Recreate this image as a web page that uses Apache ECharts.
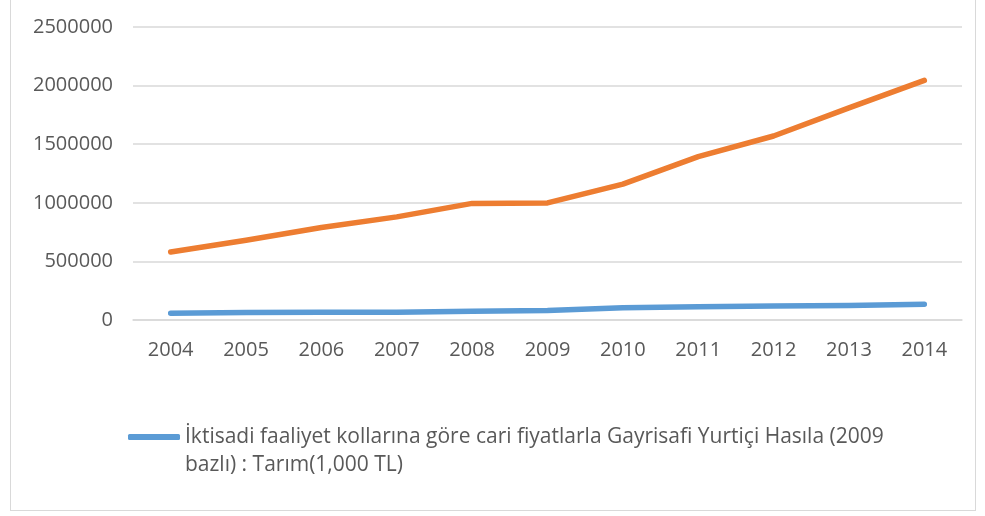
<!DOCTYPE html>
<html>
<head>
<meta charset="utf-8">
<script src="https://cdn.jsdelivr.net/npm/echarts@6/dist/echarts.min.js"></script>
<style>
  html, body { margin: 0; padding: 0; background: #fff; }
  #frame { position: absolute; left: 10px; top: -2px; width: 964px; height: 511px; border: 1px solid #d9d9d9; }
  #chart { position: absolute; left: 0; top: 0; width: 985px; height: 516px; }
</style>
</head>
<body>
<div id="frame"></div>
<div id="chart"></div>
<script>
var years = ['2004', '2005', '2006', '2007', '2008', '2009', '2010', '2011', '2012', '2013', '2014'];
var tarim = [57000, 64000, 66000, 66000, 75000, 81000, 104000, 114000, 120000, 123000, 134000];
var gsyh = [580000, 680000, 789000, 880000, 995000, 999000, 1160000, 1394000, 1570000, 1810000, 2044000];

var tarimName = 'İktisadi faaliyet kollarına göre cari fiyatlarla Gayrisafi Yurtiçi Hasıla (2009 bazlı) : Tarım(1,000 TL)';
var gsyhName = 'İktisadi faaliyet kollarına göre cari fiyatlarla Gayrisafi Yurtiçi Hasıla (2009 bazlı) : Toplam(1,000 TL)';

var chart = echarts.init(document.getElementById('chart'));

chart.setOption({
    animation: false,
    textStyle: { fontFamily: 'Open Sans' },
    grid: { left: 133, right: 23, top: 27, bottom: 196 },
    legend: {
        left: 128,
        top: 395,
        padding: 0,
        data: [tarimName],
        icon: 'roundRect',
        itemWidth: 52,
        itemHeight: 6,
        itemGap: 3,
        // empty first line keeps the icon level with the first text line
        formatter: function (name) {
            return '\n' + name.replace(' bazlı)', '\nbazlı)');
        },
        textStyle: { color: '#595959', fontSize: 21, lineHeight: 28 }
    },
    xAxis: {
        type: 'category',
        data: years,
        boundaryGap: true,
        axisLine: { lineStyle: { color: '#d9d9d9', width: 1.5 } },
        axisTick: { show: false },
        axisLabel: { color: '#595959', fontSize: 20, margin: 20 }
    },
    yAxis: {
        type: 'value',
        min: 0,
        max: 2500000,
        interval: 500000,
        axisLine: { show: false },
        axisTick: { show: false },
        axisLabel: {
            color: '#595959',
            fontSize: 20,
            margin: 20,
            formatter: function (v) { return String(v); }
        },
        splitLine: { lineStyle: { color: '#d9d9d9', width: 1.5 } }
    },
    series: [
        {
            name: tarimName,
            type: 'line',
            data: tarim,
            symbol: 'none',
            color: '#5B9BD5',
            lineStyle: { width: 5.5, cap: 'round', join: 'round' }
        },
        {
            name: gsyhName,
            type: 'line',
            data: gsyh,
            symbol: 'none',
            color: '#ED7D31',
            lineStyle: { width: 5.5, cap: 'round', join: 'round' }
        }
    ]
});
</script>
</body>
</html>
